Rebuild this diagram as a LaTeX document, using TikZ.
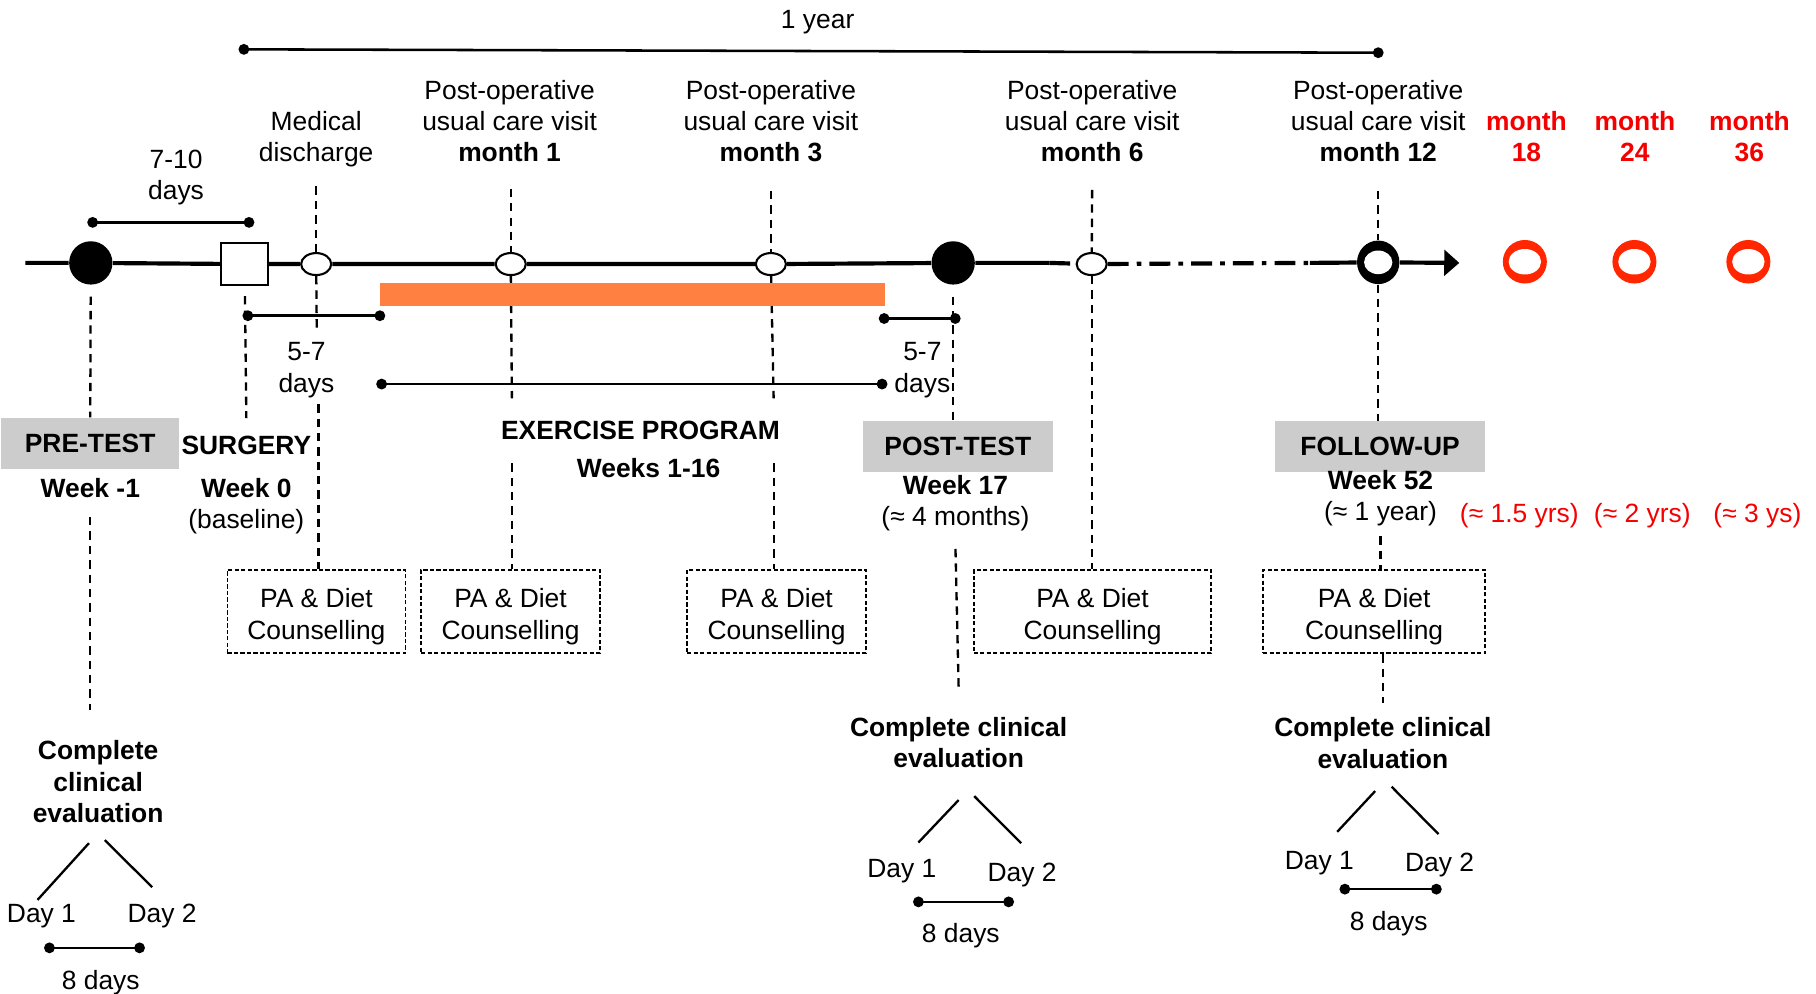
\documentclass[tikz,border=0pt]{standalone}
\usepackage{fontspec}
\setmainfont{Liberation Sans}
\usetikzlibrary{shapes.geometric,arrows.meta}
\definecolor{barorange}{RGB}{255,128,64}
\definecolor{ringred}{RGB}{255,38,0}
\definecolor{txtred}{RGB}{245,0,0}
\definecolor{boxgray}{RGB}{204,204,204}
\begin{document}
\begin{tikzpicture}[x=0.5pt,y=-0.5pt,
  txt/.style={font=\fontsize{11.4pt}{13.5pt}\selectfont, align=center, inner sep=0pt, yshift=-1.375pt},
  btxt/.style={txt, font=\fontsize{11.4pt}{13.5pt}\selectfont\bfseries},
  rtxt/.style={txt, text=txtred},
  rbtxt/.style={btxt, text=txtred},
  gbox/.style={fill=boxgray, font=\fontsize{11.4pt}{13.5pt}\selectfont\bfseries, inner sep=0pt, minimum height=22.15pt},
  pabox/.style={draw, line width=0.65pt, dash pattern=on 1.8pt off 1pt, font=\fontsize{11.4pt}{13.5pt}\selectfont, align=center, inner sep=0pt, minimum height=36pt},
  mainln/.style={line width=1.8pt},
  ddash/.style={dash pattern=on 9pt off 3.5pt on 2pt off 3.5pt},
  vdash/.style={line width=1pt, dash pattern=on 3.6pt off 2.6pt},
  brk/.style={line width=1.1pt, {Circle[length=4.6pt]}-{Circle[length=4.6pt]}, shorten <=-2.3pt, shorten >=-2.3pt},
  branch/.style={line width=1pt},
  blackdot/.style={circle, fill=black, minimum size=18.7pt, inner sep=0pt},
  oval/.style={ellipse, draw, fill=white, line width=0.9pt, minimum width=13pt, minimum height=9.5pt, inner sep=0pt},
  sqbox/.style={rectangle, draw, fill=white, line width=0.9pt, minimum width=20.35pt, minimum height=17.8pt, inner sep=0pt},
  redring/.style={ellipse, fill=ringred, minimum width=19pt, minimum height=18.8pt, inner sep=0pt,
    path picture={\fill[white] (path picture bounding box.center) ellipse [x radius=7pt, y radius=5.5pt];}},
  blackring/.style={ellipse, fill=black, minimum width=18.3pt, minimum height=18.8pt, inner sep=0pt,
    path picture={\fill[white] (path picture bounding box.center) ellipse [x radius=6.1pt, y radius=5.1pt];}}
]
\useasboundingbox (0,0) rectangle (1568,858);

% ---------- markers on the time line ----------
\node[blackdot] (pre) at (78.4,227) {};
\node[sqbox] (surg) at (211.2,228) {};
\node[oval] (dis) at (273,228) {};
\node[oval] (m1) at (441,228) {};
\node[oval] (m3) at (665.6,228) {};
\node[blackdot] (post) at (823,227) {};
\node[oval] (m6) at (942.6,228) {};
\node[blackring] (m12) at (1190,226.5) {};
\node[redring] (r18c) at (1316.6,226) {};
\node[redring] (r24c) at (1411.2,226) {};
\node[redring] (r36c) at (1509.6,226) {};
\coordinate (lstart) at (22,227);
\coordinate (dd1) at (906,227);
\coordinate (dd2) at (1131,227);
\coordinate (tip) at (1260,227);

\draw[mainln] (lstart) -- (pre) -- (surg) -- (dis) -- (m1) -- (m3) -- (post) -- (dd1);
\draw[mainln, ddash] (dd1) -- (m6) -- (dd2);
\draw[mainln] (dd2) -- (m12);
\draw[mainln, -{Triangle[length=6.5pt,width=11pt]}] (m12) -- (tip);

% ---------- texts above ----------
\node[txt] (year) at (706,16.4) {\strut 1 year\strut};
\node[txt] (d710) at (152,150.8) {\strut 7-10\\days\strut};
\node[txt] (disT) at (273,118) {\strut Medical\\discharge\strut};
\node[txt] (m1T) at (440,104.5) {\strut Post-operative\\usual care visit\\\textbf{month 1}\strut};
\node[txt] (m3T) at (665.6,104.5) {\strut Post-operative\\usual care visit\\\textbf{month 3}\strut};
\node[txt] (m6T) at (943,104.5) {\strut Post-operative\\usual care visit\\\textbf{month 6}\strut};
\node[txt] (m12T) at (1190,104.5) {\strut Post-operative\\usual care visit\\\textbf{month 12}\strut};
\node[rbtxt] (r18T) at (1318,118.2) {\strut month\\18\strut};
\node[rbtxt] (r24T) at (1411.6,118.2) {\strut month\\24\strut};
\node[rbtxt] (r36T) at (1510.5,118.2) {\strut month\\36\strut};

% ---------- brackets ----------
\coordinate (yrA) at (210.6,42.6);   \coordinate (yrB) at (1190,45.5);
\coordinate (tdA) at (80,192);       \coordinate (tdB) at (215,192);
\coordinate (fdA) at (214,272.6);    \coordinate (fdB) at (328,272.6);
\coordinate (exA) at (329.5,331.6);  \coordinate (exB) at (761.6,331.6);
\coordinate (gdA) at (763.4,275);    \coordinate (gdB) at (824.8,275);
\coordinate (e1A) at (42.7,818.4);   \coordinate (e1B) at (120.5,818.4);
\coordinate (e2A) at (793,778.7);    \coordinate (e2B) at (870.9,778.7);
\coordinate (e3A) at (1161.2,767.7); \coordinate (e3B) at (1240.2,767.7);
\draw[brk] (yrA) -- (yrB);
\draw[brk] (tdA) -- (tdB);
\draw[brk] (fdA) -- (fdB);
\draw[brk] (exA) -- (exB);
\draw[brk] (gdA) -- (gdB);
\draw[brk] (e1A) -- (e1B);
\draw[brk] (e2A) -- (e2B);
\draw[brk] (e3A) -- (e3B);

% ---------- grey boxes and labels ----------
\node[gbox, minimum width=76.85pt] (pretest) at (77.85,382.85) {PRE-TEST};
\node[gbox, minimum width=82pt] (posttest) at (827,385.75) {POST-TEST};
\node[gbox, minimum width=90.65pt] (followup) at (1191.65,385.75) {FOLLOW-UP};
\node[btxt] (wkm1) at (78,421.4) {\strut Week -1\strut};
\node[btxt] (surgT) at (212.7,384) {\strut SURGERY\strut};
\node[txt] (wk0) at (212.7,435) {\strut\textbf{Week 0}\\(baseline)\strut};
\node[txt] (d57a) at (264.6,317) {\strut 5-7\\days\strut};
\node[txt] (d57b) at (796.4,317) {\strut 5-7\\days\strut};
\node[btxt] (ex1) at (553,371) {\strut EXERCISE PROGRAM\strut};
\node[btxt] (ex2) at (560,404) {\strut Weeks 1-16\strut};
\node[txt] (wk17) at (825,432.3) {\strut\textbf{Week 17}\\(≈ 4 months)\strut};
\node[txt] (wk52) at (1192,428) {\strut\textbf{Week 52}\\(≈ 1 year)\strut};
\node[rtxt] (y15) at (1311.8,443.3) {\strut(≈ 1.5 yrs)\strut};
\node[rtxt] (y2) at (1418,443.3) {\strut(≈ 2 yrs)\strut};
\node[rtxt] (y3) at (1517.4,443.3) {\strut(≈ 3 ys)\strut};

% ---------- counselling boxes ----------
\node[pabox, minimum width=76.85pt] (pa1) at (273.2,528) {\rule{0pt}{12.8pt}PA \& Diet\\Counselling};
\node[pabox, minimum width=77.2pt] (pa2) at (440.8,528) {\rule{0pt}{12.8pt}PA \& Diet\\Counselling};
\node[pabox, minimum width=77.15pt] (pa3) at (670.5,528) {\rule{0pt}{12.8pt}PA \& Diet\\Counselling};
\node[pabox, minimum width=102.5pt] (pa4) at (943.3,528) {\rule{0pt}{12.8pt}PA \& Diet\\Counselling};
\node[pabox, minimum width=95.85pt] (pa5) at (1186.5,528) {\rule{0pt}{12.8pt}PA \& Diet\\Counselling};

% ---------- vertical dashed guides ----------
\coordinate (c1a) at (78,446.5);   \coordinate (c1b) at (78,613);
\coordinate (c2a) at (212.7,361);
\coordinate (c3a) at (273,161);    \coordinate (c3b) at (273.5,287);  \coordinate (c3c) at (275,349);
\coordinate (c4a) at (441,163);    \coordinate (c4b) at (442,344);    \coordinate (c4c) at (442,400);
\coordinate (c5a) at (665.6,165);  \coordinate (c5b) at (668,344);    \coordinate (c5c) at (668,400);
\coordinate (c6a) at (825,474);    \coordinate (c6b) at (827.7,593);
\coordinate (c7a) at (943,164);
\coordinate (c8a) at (1190,165);   \coordinate (c8b) at (1192,463);
\coordinate (c8c) at (1194,565);   \coordinate (c8d) at (1194,607);

\draw[vdash, shorten <=5pt] (pre) -- (pretest);
\draw[vdash] (c1a) -- (c1b);
\draw[vdash, shorten <=4.5pt] (surg) -- (c2a);
\draw[vdash] (c3a) -- (dis);
\draw[vdash] (dis) -- (c3b);
\draw[vdash] (c3c) -- (c3c |- pa1.north);
\draw[vdash] (c4a) -- (m1);
\draw[vdash] (m1) -- (c4b);
\draw[vdash] (c4c) -- (c4c |- pa2.north);
\draw[vdash] (c5a) -- (m3);
\draw[vdash] (m3) -- (c5b);
\draw[vdash] (c5c) -- (c5c |- pa3.north);
\draw[vdash, shorten <=5pt] (post) -- (post |- posttest.north);
\draw[vdash] (c6a) -- (c6b);
\draw[vdash] (c7a) -- (m6);
\draw[vdash] (m6) -- (m6 |- pa4.north);
\draw[vdash] (c8a) -- (m12);
\draw[vdash] (m12) -- (m12 |- followup.north);
\draw[vdash] (c8b) -- (c8b |- pa5.north);
\draw[vdash] (c8c) -- (c8d);

% ---------- exercise bar ----------
\fill[barorange] (328,244.4) rectangle (764,264);

% ---------- clinical evaluations ----------
\node[btxt] (eval1) at (84.7,674.9) {\strut Complete\\clinical\\evaluation\strut};
\node[btxt] (eval2) at (827.7,641.2) {\strut Complete clinical\\evaluation\strut};
\node[btxt] (eval3) at (1194,641.5) {\strut Complete clinical\\evaluation\strut};
\node[txt] (e1d1) at (35.8,788.7) {\strut Day 1\strut};
\node[txt] (e1d2) at (140,788.7) {\strut Day 2\strut};
\node[txt] (e2d1) at (778.7,749.8) {\strut Day 1\strut};
\node[txt] (e2d2) at (882.5,752.7) {\strut Day 2\strut};
\node[txt] (e3d1) at (1139.2,742.7) {\strut Day 1\strut};
\node[txt] (e3d2) at (1243,744) {\strut Day 2\strut};
\node[txt] (e1n) at (87,846.3) {\strut 8 days\strut};
\node[txt] (e2n) at (829.6,806) {\strut 8 days\strut};
\node[txt] (e3n) at (1199,795) {\strut 8 days\strut};

\coordinate (b1a) at (76.8,728);    \coordinate (b1b) at (32.4,777);
\coordinate (b1c) at (90.5,725.4);  \coordinate (b1d) at (131.4,766);
\coordinate (b2a) at (827.7,690.8); \coordinate (b2b) at (793,727.4);
\coordinate (b2c) at (841.2,687.4); \coordinate (b2d) at (881.7,728);
\coordinate (b3a) at (1187.4,683);  \coordinate (b3b) at (1154.6,718.2);
\coordinate (b3c) at (1201.6,679.3);\coordinate (b3d) at (1242.1,720.2);
\draw[branch] (b1a) -- (b1b);
\draw[branch] (b1c) -- (b1d);
\draw[branch] (b2a) -- (b2b);
\draw[branch] (b2c) -- (b2d);
\draw[branch] (b3a) -- (b3b);
\draw[branch] (b3c) -- (b3d);
\end{tikzpicture}
\end{document}
